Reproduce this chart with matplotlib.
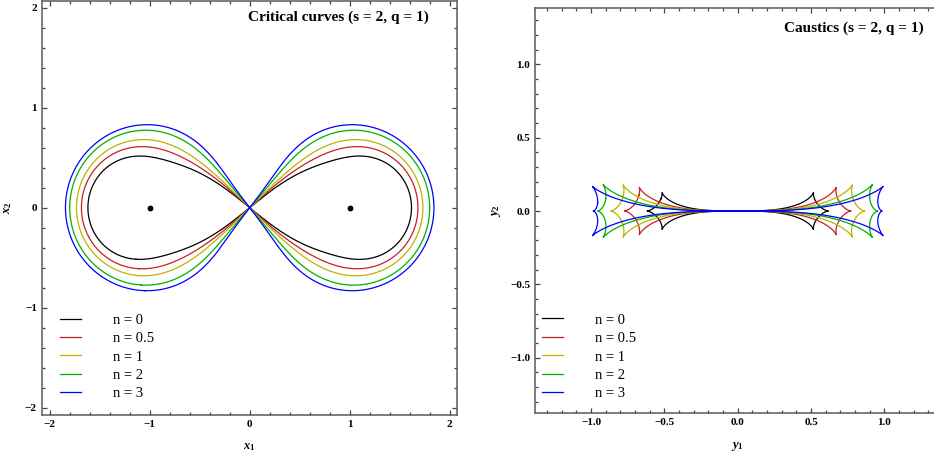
import numpy as np
import matplotlib
matplotlib.use("Agg")
import matplotlib.pyplot as plt
from matplotlib.ticker import MultipleLocator
import contourpy

# ---- data / parameters -------------------------------------------------
s = 2.0                      # binary separation
q = 1.0                      # mass ratio
n_values = [0, 0.5, 1, 2, 3]
labels = ["n = 0", "n = 0.5", "n = 1", "n = 2", "n = 3"]
colors = ["#000000", "#c82020", "#bdb200", "#00b000", "#0000ff"]
lens_x = [-s / 2, s / 2]
lens_y = [0.0, 0.0]
lens_m = [1.0 / (1.0 + q), q / (1.0 + q)]

plt.rcParams["font.family"] = ["Liberation Serif", "DejaVu Serif"]
plt.rcParams["mathtext.fontset"] = "custom"
plt.rcParams["mathtext.it"] = "Liberation Serif:bold:italic"
plt.rcParams["mathtext.rm"] = "Liberation Serif:bold"
plt.rcParams["mathtext.bf"] = "Liberation Serif:bold"


def jacobian_det(X, Y, n):
    a11 = np.ones_like(X)
    a22 = np.ones_like(X)
    a12 = np.zeros_like(X)
    for xi, yi, m in zip(lens_x, lens_y, lens_m):
        dx = X - xi
        dy = Y - yi
        r2 = dx * dx + dy * dy
        f = m / r2 ** ((n + 1) / 2.0)
        g = m * (n + 1) / r2 ** ((n + 3) / 2.0)
        a11 -= f - g * dx * dx
        a22 -= f - g * dy * dy
        a12 += g * dx * dy
    return a11 * a22 - a12 * a12


def lens_map(x, y, n):
    bx = x.copy()
    by = y.copy()
    for xi, yi, m in zip(lens_x, lens_y, lens_m):
        dx = x - xi
        dy = y - yi
        r = np.sqrt(dx * dx + dy * dy)
        bx -= m * dx / r ** (n + 1)
        by -= m * dy / r ** (n + 1)
    return bx, by


grid = np.linspace(-2.2, 2.2, 1401)
GX, GY = np.meshgrid(grid, grid)

critical = []
for n in n_values:
    with np.errstate(all="ignore"):
        det = jacobian_det(GX, GY, n)
    det = np.where(np.isfinite(det), det, -1e6)
    gen = contourpy.contour_generator(x=grid, y=grid, z=det)
    critical.append(gen.lines(0.0))

W, H = 934, 459
fig = plt.figure(figsize=(W / 100, H / 100), dpi=100)

ax1 = fig.add_axes([41.7 / W, (H - 415) / H, 415 / W, 414.5 / H])
ax2 = fig.add_axes([535 / W, (H - 413.3) / H, 405.2 / W, 405 / H])

for n, lab, col, segs in zip(n_values, labels, colors, critical):
    first = True
    for seg in segs:
        ax1.plot(seg[:, 0], seg[:, 1], color=col, lw=0.9,
                 label=lab if first else None)
        bx, by = lens_map(seg[:, 0], seg[:, 1], n)
        ax2.plot(bx, by, color=col, lw=0.9, label=lab if first else None)
        first = False

ax1.plot(lens_x, lens_y, "o", color="k", ms=3.2, zorder=5)

ax1.set_xlim(-2.08, 2.07)
ax1.set_ylim(-2.073, 2.072)
ax2.set_xlim(-1.382, 1.38)
ax2.set_ylim(-1.379, 1.382)

for ax, maj, mn in ((ax1, 1.0, 0.2), (ax2, 0.5, 0.1)):
    ax.xaxis.set_major_locator(MultipleLocator(maj))
    ax.xaxis.set_minor_locator(MultipleLocator(mn))
    ax.yaxis.set_major_locator(MultipleLocator(maj))
    ax.yaxis.set_minor_locator(MultipleLocator(mn))
    ax.tick_params(which="both", direction="in", top=True, right=True,
                   color="#444444", width=0.9)
    ax.tick_params(which="major", length=3.6, labelsize=8, pad=3.5)
    ax.tick_params(which="minor", length=2.0)
    for lbl in ax.get_xticklabels() + ax.get_yticklabels():
        lbl.set_fontweight("bold")
    for sp in ax.spines.values():
        sp.set_color("#5a5a5a")
        sp.set_linewidth(1.1)

ax1.set_xlabel(r"$x_1$", fontsize=9)
ax1.set_ylabel(r"$x_2$", fontsize=9, rotation=90)
ax1.xaxis.set_label_coords(0.5, -0.077)
ax1.yaxis.set_label_coords(-0.081, 0.5)
ax1.xaxis.label.set_va("center")
ax1.yaxis.label.set_va("center")
ax2.set_xlabel(r"$y_1$", fontsize=9)
ax2.set_ylabel(r"$y_2$", fontsize=9, rotation=90)
ax2.xaxis.set_label_coords(0.5, -0.0825)
ax2.yaxis.set_label_coords(-0.094, 0.5)
ax2.xaxis.label.set_va("center")
ax2.yaxis.label.set_va("center")

ax1.text(1.793, 1.907, "Critical curves (s = 2, q = 1)", ha="right",
         va="center", fontsize=11, fontweight="bold")
ax2.text(1.27, 1.245, "Caustics (s = 2, q = 1)", ha="right",
         va="center", fontsize=11, fontweight="bold")

for ax, x0, y0 in ((ax1, 0.0441, 0.245), (ax2, 0.018, 0.2467)):
    ax.legend(loc="upper left", bbox_to_anchor=(x0, y0), frameon=False,
              fontsize=10.5, handlelength=1.42, handletextpad=2.2,
              labelspacing=0.36, borderpad=0, borderaxespad=0)

fig.savefig("out.png", dpi=100)
